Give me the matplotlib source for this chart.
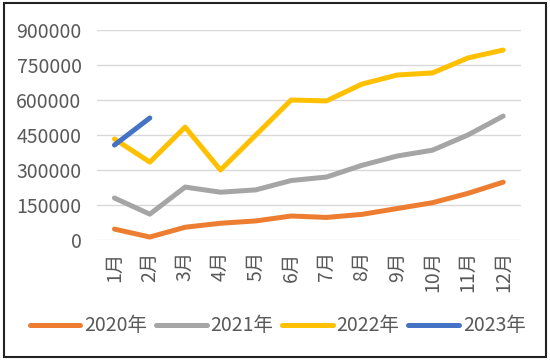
import matplotlib
matplotlib.use("Agg")
import matplotlib.pyplot as plt
from matplotlib.patches import Rectangle

plt.rcParams['font.family'] = ['Noto Sans CJK SC', 'DejaVu Sans']

months = ["1月", "2月", "3月", "4月", "5月", "6月", "7月", "8月", "9月", "10月", "11月", "12月"]
s2020 = [47000, 13000, 55000, 72000, 82000, 103000, 97000, 110000, 135000, 160000, 200000, 248000]
s2021 = [180000, 111000, 227000, 205000, 215000, 255000, 270000, 320000, 360000, 385000, 450000, 531000]
s2022 = [433000, 334000, 484000, 300000, 450000, 600000, 596000, 668000, 707000, 716000, 780000, 814000]
s2023 = [407000, 523000]
yticks = [0, 150000, 300000, 450000, 600000, 750000, 900000]

series = [("2020年", s2020, "#ED7D31"), ("2021年", s2021, "#A5A5A5"),
          ("2022年", s2022, "#FFC000"), ("2023年", s2023, "#4472C4")]

fig = plt.figure(figsize=(5.5, 3.61), dpi=100)
ax = fig.add_axes([0.176, 0.335, 0.771, 0.582])

for name, vals, col in series:
    ax.plot(range(len(vals)), vals, color=col, lw=3.6, label=name, solid_capstyle='round')

ax.set_xlim(-0.5, 11.5)
ax.set_ylim(0, 900000)
ax.set_yticks(yticks)
ax.set_yticklabels([str(v) for v in yticks])
ax.set_xticks(range(12))
ax.set_xticklabels(months, rotation=90)
ax.grid(axis='y', color='#D9D9D9', lw=1)
ax.set_axisbelow(True)
for s in ax.spines.values():
    s.set_visible(False)
ax.tick_params(axis='both', length=0, labelsize=14, colors='#595959')
ax.tick_params(axis='y', pad=11)
ax.tick_params(axis='x', pad=8)

leg = fig.legend(loc='center', bbox_to_anchor=(0.505, 0.097), ncol=4, frameon=False,
                 fontsize=14, handlelength=2.6, handletextpad=0.2, columnspacing=0.45,
                 labelcolor='#595959')

fig.patches.append(Rectangle((0.008, 0.011), 0.984, 0.98, transform=fig.transFigure,
                             fill=False, edgecolor='#222222', lw=1.5))

fig.savefig("out.png", dpi=100)
